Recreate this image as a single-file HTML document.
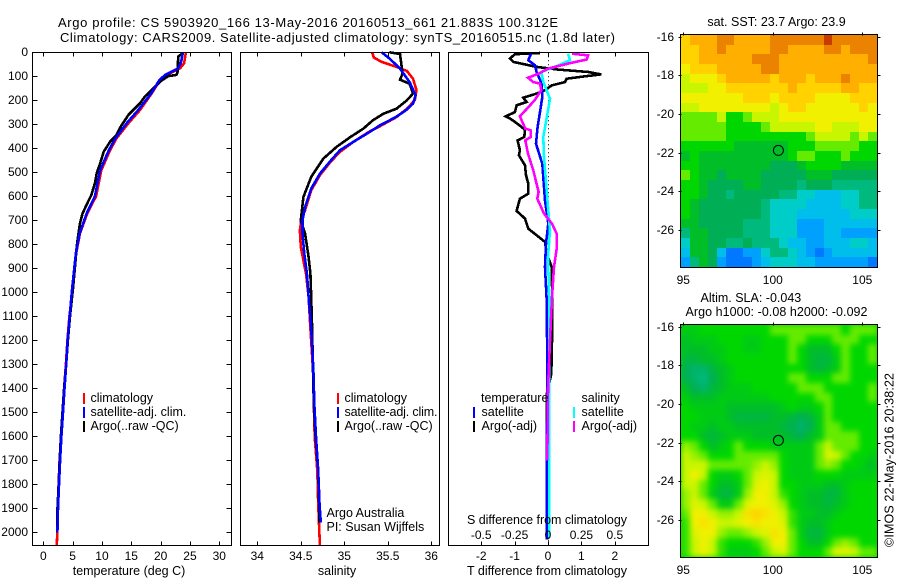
<!DOCTYPE html>
<html lang="en">
<head>
<meta charset="utf-8">
<title>Argo profile 5903920</title>
<style>
html,body{margin:0;padding:0;background:#fff;}
svg{display:block;font-family:"Liberation Sans",sans-serif;font-size:12.5px;fill:#000;}
</style>
</head>
<body>
<svg id="chart" xmlns="http://www.w3.org/2000/svg" width="900" height="580" viewBox="0 0 900 580">
  <defs>
    <filter id="sla-smooth" x="0" y="0" width="100%" height="100%" color-interpolation-filters="sRGB">
      <feGaussianBlur stdDeviation="3"/>
    </filter>
  </defs>
  <text x="58" y="27" font-size="13" textLength="500" lengthAdjust="spacing">Argo profile: CS 5903920_166 13-May-2016 20160513_661 21.883S 100.312E</text>
  <text x="60" y="42" font-size="13" textLength="555" lengthAdjust="spacing">Climatology: CARS2009. Satellite-adjusted climatology: synTS_20160515.nc (1.8d later)</text>

  <g id="marks-layer"></g>
  <g id="maps-layer"></g>
  <g id="axes-layer" shape-rendering="crispEdges" font-size="12"></g>

  <rect x="32.5" y="52.5" width="199" height="493" fill="none" stroke="#000" shape-rendering="crispEdges"/>
  <rect x="240.5" y="52.5" width="199" height="493" fill="none" stroke="#000" shape-rendering="crispEdges"/>
  <rect x="448.5" y="52.5" width="200" height="493" fill="none" stroke="#000" shape-rendering="crispEdges"/>

  <text x="129" y="575" text-anchor="middle">temperature (deg C)</text>
  <text x="337" y="575" text-anchor="middle">salinity</text>
  <text x="547" y="575" text-anchor="middle" textLength="160" lengthAdjust="spacing">T difference from climatology</text>
  <text x="547" y="524" text-anchor="middle" textLength="160" lengthAdjust="spacing">S difference from climatology</text>

  <g shape-rendering="crispEdges">
    <rect x="83" y="393" width="2" height="11" fill="#ff0000"/>
    <rect x="83" y="407" width="2" height="11" fill="#0000ff"/>
    <rect x="83" y="421" width="2" height="11" fill="#000"/>
  </g>
  <text x="90.5" y="402">climatology</text>
  <text x="90.5" y="416">satellite-adj. clim.</text>
  <text x="90.5" y="430">Argo(..raw -QC)</text>

  <g shape-rendering="crispEdges">
    <rect x="337" y="393" width="2" height="11" fill="#ff0000"/>
    <rect x="337" y="407" width="2" height="11" fill="#0000ff"/>
    <rect x="337" y="421" width="2" height="11" fill="#000"/>
  </g>
  <text x="344.5" y="402">climatology</text>
  <text x="344.5" y="416" textLength="93" lengthAdjust="spacing">satellite-adj. clim.</text>
  <text x="344.5" y="430">Argo(..raw -QC)</text>
  <text x="326.5" y="517">Argo Australia</text>
  <text x="326.5" y="531">PI: Susan Wijffels</text>

  <g shape-rendering="crispEdges">
    <rect x="473" y="407" width="2" height="11" fill="#0000ff"/>
    <rect x="473" y="421" width="2" height="11" fill="#000"/>
    <rect x="573" y="407" width="2" height="11" fill="#00ffff"/>
    <rect x="573" y="421" width="2" height="11" fill="#ff00ff"/>
  </g>
  <text x="481" y="402">temperature</text>
  <text x="481.5" y="416">satellite</text>
  <text x="481.5" y="430">Argo(-adj)</text>
  <text x="581.5" y="402">salinity</text>
  <text x="581.5" y="416">satellite</text>
  <text x="581.5" y="430">Argo(-adj)</text>

  <text x="776.5" y="26" text-anchor="middle">sat. SST: 23.7 Argo: 23.9</text>
  <text x="700.5" y="302">Altim. SLA: -0.043</text>
  <text x="685.5" y="316" textLength="182" lengthAdjust="spacing">Argo h1000: -0.08 h2000: -0.092</text>
  <text transform="translate(893.5,547) rotate(-90)" textLength="174" lengthAdjust="spacing">©IMOS 22-May-2016 20:38:22</text>
</svg>

<script>
// ---------- axis tick values ----------
const depthTicks = [0,100,200,300,400,500,600,700,800,900,1000,1100,1200,1300,1400,1500,1600,1700,1800,1900,2000];
const tempTicks = [0,5,10,15,20,25,30];
const salTicks = [34,34.5,35,35.5,36];
const salTickLabels = ['34','34.5','35','35.5','36'];
const tDiffTicks = [-2,-1,0,1,2];
const sDiffTicks = [-0.5,-0.25,0,0.25,0.5];
const sDiffTickLabels = ['-0.5','-0.25','0','0.25','0.5'];
const lonTicks = [95,100,105];
const latTicks = [-16,-18,-20,-22,-24,-26];

// ---------- temperature profile values (deg C) ----------
const tempClimDepth = [0,46,67,94,115,171,240,296,358,407,490,600,671,754,837,990,1100,1200,1300,1400,1500,1600,1700,1800,1900,2000,2055];
const tempClimValues = [24.3,24.0,23.3,21.0,19.9,18.5,16.5,14.5,12.5,11.4,9.9,9.0,7.5,6.25,5.6,5.0,4.45,4.1,3.85,3.55,3.28,3.02,2.78,2.6,2.47,2.38,2.3];
const tempSatDepth = [0,40,67,94,115,171,240,296,358,407,490,600,671,754,837,990,1100,1200,1300,1400,1500,1600,1700,1800,1900,2000];
const tempSatValues = [23.8,23.5,23.0,20.8,19.8,18.4,16.2,14.2,12.3,11.2,9.7,8.8,7.4,6.2,5.55,4.9,4.5,4.15,3.9,3.62,3.35,3.08,2.86,2.68,2.5,2.4];
const tempArgoDepth = [4,18,80,94,99,122,157,185,212,261,310,344,372,414,462,504,546,594,629,671,712,754,810,893,976,1100,1200,1300,1400,1500,1600,1700,1800,1900,2000];
const tempArgoValues = [23.75,23,22.9,22.7,21.3,19.9,18.5,17.3,16.5,14.5,13.2,12.5,11.4,10.3,9.7,9.1,8.8,8.2,7.5,6.7,6.25,6,5.7,5.4,5.1,4.55,4.2,3.9,3.55,3.28,3.0,2.8,2.62,2.42,2.38];

// ---------- salinity profile values (psu) ----------
const salClimDepth = [0,22,40,61,78,110,158,200,235,270,308,332,374,415,457,512,575,658,686,742,811,867,922,1019,1150,1325,1464,1603,1742,1881,2055];
const salClimValues = [35.32,35.34,35.43,35.6,35.72,35.79,35.83,35.81,35.72,35.6,35.41,35.28,35.1,34.95,34.84,34.72,34.62,34.55,34.51,34.49,34.5,34.53,34.56,34.59,34.61,34.64,34.65,34.66,34.69,34.7,34.72];
const salSatDepth = [0,26,68,124,179,214,244,272,304,339,374,408,453,506,568,644,700,756,839,922,1019,1150,1325,1464,1603,1742,1881,1960];
const salSatValues = [35.43,35.52,35.64,35.75,35.82,35.79,35.7,35.58,35.41,35.26,35.1,34.95,34.84,34.72,34.62,34.55,34.52,34.52,34.54,34.57,34.59,34.62,34.645,34.655,34.675,34.7,34.715,34.73];
const salArgoDepth = [0,7,61,89,114,131,172,200,235,256,283,318,353,394,443,519,603,700,756,853,922,1019,1150,1325,1464,1603,1742,1881,1960];
const salArgoValues = [35.52,35.64,35.66,35.67,35.64,35.75,35.79,35.72,35.6,35.45,35.33,35.22,35.07,34.91,34.76,34.62,34.53,34.5,34.55,34.59,34.61,34.62,34.63,34.64,34.65,34.67,34.7,34.71,34.71];

// ---------- differences from climatology ----------
const tDiffArgoDepth = [3,8,26,40,61,72,82,92,100,110,124,138,158,172,189,207,221,249,267,276,290,322,353,367,408,429,471,512,547,589,610,661,693,735,790,839,894,1033,1200,1340,1420,2030];
const tDiffArgoValues = [-0.24,-0.99,-1.14,-1.04,-0.34,0.31,1.21,1.59,1.11,0.56,0.51,0.11,-0.09,-0.34,-0.74,-0.64,-0.94,-0.99,-1.27,-1.14,-0.99,-0.69,-0.71,-0.91,-0.84,-0.87,-0.69,-0.66,-0.59,-0.59,-0.84,-0.94,-0.69,-0.59,-0.09,-0.04,0.11,0.13,0.12,0.1,-0.03,-0.04];
const tDiffSatDepth = [6,33,54,82,131,186,249,311,381,464,617,714,797,894,1033,1300,1600,2030];
const tDiffSatValues = [-0.51,-0.59,-0.39,-0.34,-0.19,-0.17,-0.24,-0.31,-0.36,-0.17,-0.09,0.01,-0.06,-0.09,-0.04,-0.02,-0.03,-0.03];
const sDiffArgoDepth = [6,13,30,47,68,89,106,124,130,158,200,267,318,325,353,367,422,492,582,610,672,714,756,818,894,1019,1200,1400,1700];
const sDiffArgoValues = [0.18,0.30,0.29,0.15,0,-0.07,-0.15,-0.11,-0.06,-0.05,-0.10,-0.21,-0.17,-0.13,-0.13,-0.17,-0.15,-0.11,-0.07,-0.08,-0.03,0.03,0.065,0.065,0.045,0.03,0.015,0,-0.005];
const sDiffSatDepth = [6,33,61,82,124,193,242,353,436,644,742,853,1033,1400,1750,2020];
const sDiffSatValues = [0.15,0.165,0.05,-0.05,-0.035,0.015,0,-0.035,-0.03,0,0.015,0,0.01,0.01,0.01,0.01];

// ---------- map grids: colour-scale levels by row (north to south), column (west to east) ----------
const sstGrid = [
[11,12,12,12,13,13,12,12,12,12,13,13,13,13,13,13,14,13,13,13,13,13],
[11,11,12,12,13,12,12,12,12,12,13,13,12,12,12,12,13,13,12,13,13,13],
[11,11,12,12,12,12,12,12,13,13,13,12,12,12,12,12,12,12,12,12,12,13],
[10,11,11,11,12,12,12,12,12,13,13,12,12,12,12,12,12,12,12,12,12,12],
[9,10,10,10,11,12,12,12,12,12,11,12,12,12,11,12,12,12,13,12,12,12],
[9,9,9,10,10,11,11,11,11,11,11,11,12,11,11,11,11,11,12,12,11,11],
[10,10,10,10,10,10,10,11,11,11,10,11,11,11,11,10,10,10,10,11,11,11],
[9,9,10,10,10,10,10,10,10,10,9,10,11,11,10,10,10,10,10,10,11,10],
[8,8,8,8,9,7,7,8,9,9,9,10,10,10,10,10,10,10,10,10,10,10],
[8,8,8,8,8,7,7,7,7,8,9,9,9,9,9,10,10,9,9,9,10,10],
[8,8,8,8,8,7,7,7,7,7,7,7,7,7,8,9,9,9,9,8,9,8],
[7,7,7,7,7,7,6,6,6,6,6,6,7,7,7,8,8,8,8,8,7,7],
[6,7,6,6,6,6,6,6,6,6,6,6,7,8,8,7,7,7,8,7,7,7],
[7,7,6,6,6,6,6,6,6,6,5,5,5,6,7,7,7,7,6,6,6,6],
[8,7,6,6,5,6,6,6,6,5,5,5,5,5,6,6,6,5,5,5,5,5],
[7,7,6,5,5,5,5,6,6,5,5,5,5,4,5,5,5,4,4,4,4,4],
[7,7,6,5,5,4,5,5,5,5,5,4,4,3,3,2,2,2,3,3,4,4],
[7,6,5,5,5,5,5,5,5,4,3,3,3,3,2,2,2,2,3,3,4,4],
[7,6,5,5,5,5,5,5,5,4,3,3,3,2,2,2,2,2,2,3,3,3],
[6,6,5,5,5,5,5,4,4,4,3,3,3,1,1,1,2,2,2,2,2,2],
[4,6,6,5,5,5,5,4,4,4,3,3,3,1,1,1,2,2,1,1,1,1],
[3,6,6,5,5,4,4,5,4,4,4,3,2,2,1,1,2,2,2,3,3,2],
[2,6,6,5,2,0,0,1,1,3,4,4,3,2,1,0,1,2,2,2,2,2],
[1,4,6,5,1,0,0,0,1,2,3,3,3,2,2,1,1,1,1,1,1,0]
];
const slaGrid = [
[6.5,6.5,7,7,7,7,7,7,7,7,8,8,8,8,8,8,8,8,7,8,8,8],
[6,6.5,6.5,6.5,7,7,7,6.5,6.5,7,7,7,8,8,7,7,7,8,8,8,7,7],
[6,6,6,6.5,6.5,7,7,6.5,6.5,7,7,7,8,7,6,6,6,7,8,7,7,8],
[5.5,5.5,6,6,6.5,7,7,7,7,7,7,7,8,7,6,5.5,5.5,6.5,8,7,7,8],
[5,4.5,4.5,5.5,6,6.5,7,7,7,7,7,7,7,7,6,5.5,6,6.5,8,7,7,7],
[5,4.5,4,5,6,6.5,7,7,7,7,7,7,8,8,7,7,7,8,8,7,7,7],
[6,5,4.5,5.5,6,6.5,6.5,6.5,7,7,7,7,7,8,8,8,7,7,7,7,7,8],
[6.5,6,6,6,6.5,6.5,6.5,6.5,6.5,6.5,7,7,7,7,7,8,8,7,7,7,7,8],
[7,6.5,6.5,6.5,6.5,6,6,6,6,6,6,6.5,7,6.5,6.5,7,8,7,7,7,7,7],
[7,7,6.5,6.5,6.5,6,5.5,5.5,5.5,5.5,6,6,5.5,5,5.5,6.5,8,7,7,7,7,7],
[7,6.5,6.5,6,6.5,6.5,6,6,6,6,6,5.5,5,4.5,5,6.5,8,8,7,7,7,7],
[7,7,6,5.5,6,6.5,6.5,6.5,6,6,6,6,5.5,5,6,6.5,8,8,8,8,7,7],
[8.5,8,7,6,6.5,7,8,7,7,7,6.5,6.5,6.5,6.5,6.5,8,9,8,8,8,7,7],
[9,8.5,8,7,7,7,8,8,8,8,8,7,6.5,6.5,6.5,8,9.5,9,8,7,7,6.5],
[9,9,9,8,8,8,8,8,8.5,9,8.5,7,6.5,6.5,6.5,8,8.5,8,7,7,6.5,6],
[9,10,9,7,6.5,6.5,7,8,9,9.5,9,7,6.5,6.5,6.5,7,7,7,6.5,6.5,6.5,6.5],
[9,9,8,7,6,6,6.5,8,9.5,10,9,7,7,6.5,6.5,6.5,6,6,6.5,7,7,7],
[8.5,9,8,6.5,5.5,5.5,6.5,8.5,10,10,9,7.5,7,6.5,6,6,5.5,5.5,6.5,7,7,7],
[8.5,9.5,9,8,6.5,6.5,8,9.5,10,10,9.5,8.5,7,6.5,6,6,5.5,6,6.5,7,7,7],
[8,10,10,9,8.5,8.5,9,10.5,11,10.5,10,9,7.5,6.5,6.5,6,6,6.5,7,7,7,7],
[7.5,10,10.5,10,9,9,9.5,10,10.5,10,10,9.5,7.5,6.5,6,6,6.5,7,7,7,7,7],
[7.5,9.5,10,10,8.5,8,8,8.5,9,9.5,10.5,10,8,6.5,5.5,5.5,6.5,7,7,7,7,7],
[7.5,9,10,9,7.5,7,7,7,7.5,8.5,10,10,8,7,6,6,7,8,8.5,8,7,7],
[7.5,9,10,9,7.5,6.5,6.5,6.5,7,8,9,9.5,8,7,7,7,8,9.5,9.5,9,8,8]
];
const floatLon = [100.312];
const floatLat = [-21.883];

// ---------- scales ----------
const SVGNS = 'http://www.w3.org/2000/svg';
const marks = document.getElementById('marks-layer');
const maps = document.getElementById('maps-layer');
const axes = document.getElementById('axes-layer');
function make(tag, parent) { const n = document.createElementNS(SVGNS, tag); parent.appendChild(n); return n; }
function yDepth(d) { return 52.3 + d * 0.24; }
function xTemp(v) { return 43.3 + v * 5.867; }
function xSal(v) { return 257.3 + (v - 34) * 87; }
function xTDiff(v) { return 548 + v * 33.4; }
function xSDiff(v) { return 548 + v * 133.6; }
function xLon(v) { return 683.3 + (v - 95) * 17.9; }
function ySst(v) { return 36.7 + (-16 - v) * 19.33; }
function ySla(v) { return 326.7 + (-16 - v) * 19.33; }

const levelColours = [[0,120,255],[0,160,255],[0,190,235],[0,205,200],[0,185,125],[0,175,85],[0,190,40],[0,215,0],[100,235,0],[200,245,0],[240,240,0],[255,210,0],[255,175,0],[235,130,0],[200,60,0]];
function levelColour(v) {
  const c = Math.max(0, Math.min(14, v));
  const lo = Math.floor(c), hi = Math.min(14, lo + 1), f = c - lo;
  const a = levelColours[lo], b = levelColours[hi];
  return 'rgb(' + [0,1,2].map(function (i) { return Math.round(a[i] + (b[i] - a[i]) * f); }).join(',') + ')';
}
function drawLine(depths, values, xScale, colour, name) {
  const el = make('polyline', marks);
  
  
  el.setAttribute('fill', 'none');
  el.setAttribute('stroke', colour);
  el.setAttribute('stroke-width', '2.6');
  el.setAttribute('shape-rendering', 'crispEdges');
  el.setAttribute('points', values.map(function (v, i) { return xScale(v).toFixed(1) + ',' + yDepth(depths[i]).toFixed(1); }).join(' '));
}
function tick(x1, y1, x2, y2) {
  const el = make('line', axes);
  
  
  el.setAttribute('x1', Math.round(x1) + 0.5);
  el.setAttribute('y1', Math.round(y1) + 0.5);
  el.setAttribute('x2', Math.round(x2) + 0.5);
  el.setAttribute('y2', Math.round(y2) + 0.5);
  el.setAttribute('stroke', '#000');
}
function tickLabel(x, y, str, anchor) {
  const el = make('text', axes);
  
  
  el.setAttribute('x', x);
  el.setAttribute('y', y);
  el.setAttribute('text-anchor', anchor);
  el.textContent = str;
}

// ---------- zero line and profile lines ----------
const zeroLine = make('line', marks);


zeroLine.setAttribute('x1', xTDiff(0) + 0.5);
zeroLine.setAttribute('x2', xTDiff(0) + 0.5);
zeroLine.setAttribute('y1', yDepth(0));
zeroLine.setAttribute('y2', yDepth(2055));
zeroLine.setAttribute('stroke', '#000');
zeroLine.setAttribute('stroke-dasharray', '1 3');

drawLine(tempClimDepth, tempClimValues, xTemp, '#ff0000', 'temperature-climatology-line');
drawLine(tempArgoDepth, tempArgoValues, xTemp, '#000000', 'temperature-argo-line');
drawLine(tempSatDepth, tempSatValues, xTemp, '#0000ff', 'temperature-satellite-line');
drawLine(salClimDepth, salClimValues, xSal, '#ff0000', 'salinity-climatology-line');
drawLine(salArgoDepth, salArgoValues, xSal, '#000000', 'salinity-argo-line');
drawLine(salSatDepth, salSatValues, xSal, '#0000ff', 'salinity-satellite-line');
drawLine(tDiffArgoDepth, tDiffArgoValues, xTDiff, '#000000', 't-difference-argo-line');
drawLine(tDiffSatDepth, tDiffSatValues, xTDiff, '#0000ff', 't-difference-satellite-line');
drawLine(sDiffSatDepth, sDiffSatValues, xSDiff, '#00ffff', 's-difference-satellite-line');
drawLine(sDiffArgoDepth, sDiffArgoValues, xSDiff, '#ff00ff', 's-difference-argo-line');

// ---------- profile axes ----------
depthTicks.forEach(function (d) {
  const y = yDepth(d);
  tick(32, y, 37, y);
  tick(226, y, 231, y);
  tickLabel(28, Math.round(y) + 4, String(d), 'end');
});
tempTicks.forEach(function (v) {
  const x = xTemp(v);
  tick(x, 52, x, 56);
  tick(x, 541, x, 545);
  tickLabel(x, 560, String(v), 'middle');
});
salTicks.forEach(function (v, i) {
  const x = xSal(v);
  tick(x, 52, x, 56);
  tick(x, 541, x, 545);
  tickLabel(x, 560, salTickLabels[i], 'middle');
});
tDiffTicks.forEach(function (v) {
  const x = xTDiff(v);
  tick(x, 541, x, 545);
  if (v % 2 === 0) tick(x, 52, x, 56);
  tickLabel(x, 560, String(v), 'middle');
});
sDiffTicks.forEach(function (v, i) {
  tickLabel(xSDiff(v), 539, sDiffTickLabels[i], 'middle');
});

// ---------- maps ----------
function drawMap(grid, left, top, right, bottom, yScale, cellName, frameName, labelY, smooth) {
  const rows = grid.length, cols = grid[0].length;
  const group = make('g', maps);
  
  
  if (smooth) {
    const base = make('rect', group);
    
    
    base.setAttribute('x', left);
    base.setAttribute('y', top);
    base.setAttribute('width', right - left);
    base.setAttribute('height', bottom - top);
    base.setAttribute('fill', levelColour(7));
  }
  const cellsHolder = make('g', group);
  
  
  if (smooth) cellsHolder.setAttribute('filter', 'url(#sla-smooth)');
  grid.forEach(function (row, r) {
    const y0 = Math.round(top + (bottom - top) * r / rows);
    const y1 = Math.round(top + (bottom - top) * (r + 1) / rows);
    row.forEach(function (v, c) {
      const x0 = Math.round(left + (right - left) * c / cols);
      const x1 = Math.round(left + (right - left) * (c + 1) / cols);
      const cell = make('rect', cellsHolder);
      
      
      cell.setAttribute('x', x0);
      cell.setAttribute('y', y0);
      cell.setAttribute('width', x1 - x0);
      cell.setAttribute('height', y1 - y0);
      cell.setAttribute('fill', levelColour(v));
      cell.setAttribute('shape-rendering', 'crispEdges');
    });
  });
  const frame = make('rect', maps);
  
  
  frame.setAttribute('x', left - 0.5);
  frame.setAttribute('y', top - 0.5);
  frame.setAttribute('width', right - left + 1);
  frame.setAttribute('height', bottom - top + 1);
  frame.setAttribute('fill', 'none');
  frame.setAttribute('stroke', '#000');
  frame.setAttribute('shape-rendering', 'crispEdges');
  latTicks.forEach(function (v) {
    const y = yScale(v);
    tick(left - 3, y, left, y);
    tick(right, y, right + 3, y);
    tickLabel(674, Math.round(y) + 4, String(v), 'end');
  });
  lonTicks.forEach(function (v) {
    const x = xLon(v);
    tick(x, top - 3, x, top);
    tickLabel(x, labelY, String(v), 'middle');
  });
  const dot = make('circle', maps);
  
  
  dot.setAttribute('cx', xLon(floatLon[0]));
  dot.setAttribute('cy', yScale(floatLat[0]));
  dot.setAttribute('r', '5');
  dot.setAttribute('fill', 'none');
  dot.setAttribute('stroke', '#000');
}
drawMap(sstGrid, 681, 35, 877, 267, ySst, 'sst-map-cell', 'sst-map-frame', 284, false);
drawMap(slaGrid, 681, 325, 877, 557, ySla, 'sla-map-cell', 'sla-map-frame', 574, true);
</script>
</body>
</html>
